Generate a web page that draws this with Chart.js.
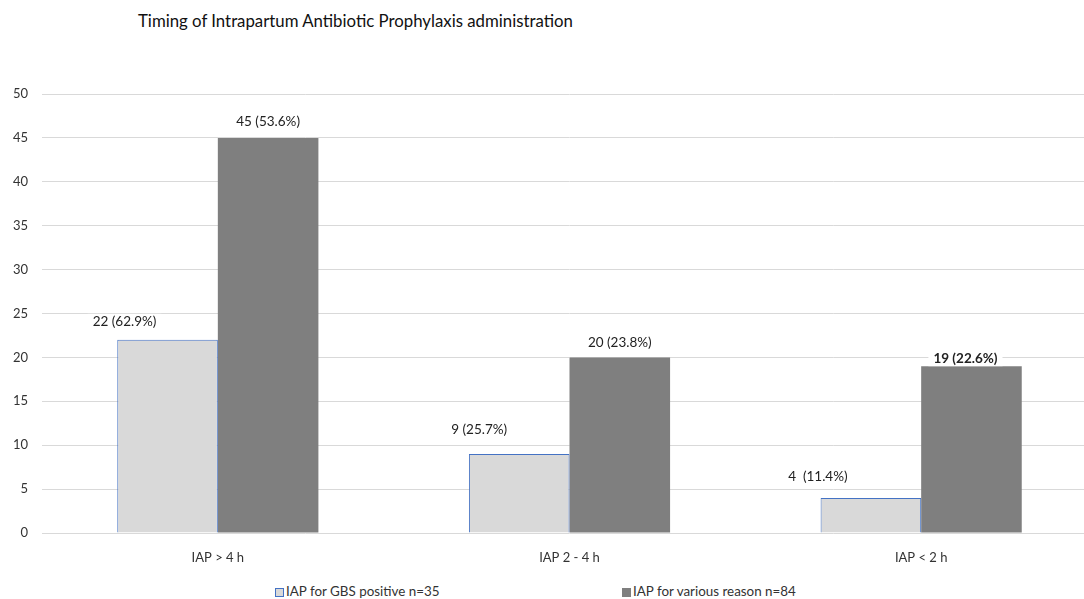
<!DOCTYPE html>
<html>
<head>
<meta charset="utf-8">
<script src="https://cdn.jsdelivr.net/npm/chart.js@4.4.1/dist/chart.umd.min.js"></script>
<style>
    body { margin: 0; background: #fff; overflow: hidden; width: 1084px; height: 599px; position: relative; font-family: Lato, sans-serif; }
    #title { position: absolute; left: 138px; top: 10px; font-size: 16.8px; color: #111; }
    #wrap { position: absolute; left: 0; top: 0; width: 1098px; height: 570px; }
    .legend { position: absolute; top: 583px; font-size: 13.4px; color: #333; white-space: nowrap; }
    .legend span { display: inline-block; width: 9px; height: 9px; margin-right: 2px; vertical-align: -1px; box-sizing: border-box; }
</style>
</head>
<body>
<div id="title">Timing of Intrapartum Antibiotic Prophylaxis administration</div>
<div id="wrap"><canvas id="iapChart"></canvas></div>
<div class="legend" style="left:275px"><span style="background:#d9d9d9;border:1px solid #4472c4"></span>IAP for GBS positive n=35</div>
<div class="legend" style="left:622px"><span style="background:#7f7f7f"></span>IAP for various reason n=84</div>
<script>
const categories = ['IAP > 4 h', 'IAP 2 - 4 h', 'IAP < 2 h'];
const gbsPositive = [22, 9, 4];
const variousReason = [45, 20, 19];
const gbsLabels = ['22 (62.9%)', '9 (25.7%)', '4  (11.4%)'];
const variousLabels = ['45 (53.6%)', '20 (23.8%)', '19 (22.6%)'];
const yTicks = [0, 5, 10, 15, 20, 25, 30, 35, 40, 45, 50];

// labels drawn on a white box, like the original
const barLabels = {
    id: 'barLabels',
    afterDatasetsDraw(chart) {
        const ctx = chart.ctx;
        const sets = [
            { texts: gbsLabels, dx: [-43, -40, -53], dy: [-18, -24, -21], bold: [false, false, false] },
            { texts: variousLabels, dx: [0, 0, -6], dy: [-16, -15, -8], bold: [false, false, true] }
        ];
        ctx.save();
        sets.forEach((s, di) => {
            chart.getDatasetMeta(di).data.forEach((bar, i) => {
                ctx.font = (s.bold[i] ? 'bold ' : '') + '13.5px Lato, sans-serif';
                const t = s.texts[i];
                const w = ctx.measureText(t).width;
                const x = bar.x + s.dx[i];
                const y = bar.y + s.dy[i];
                ctx.fillStyle = '#fff';
                ctx.fillRect(x - w / 2 - 5, y - 8, w + 10, 16);
                ctx.fillStyle = '#222';
                ctx.textAlign = 'center';
                ctx.textBaseline = 'middle';
                ctx.fillText(t, x, y);
            });
        });
        ctx.restore();
    }
};

new Chart(document.getElementById('iapChart').getContext('2d'), {
    type: 'bar',
    data: {
        labels: categories,
        datasets: [
            {
                label: 'IAP for GBS positive n=35',
                data: gbsPositive,
                backgroundColor: '#d9d9d9',
                borderColor: '#4472c4',
                borderWidth: 1,
                borderSkipped: 'bottom'
            },
            {
                label: 'IAP for various reason n=84',
                data: variousReason,
                backgroundColor: '#7f7f7f',
                borderWidth: 0
            }
        ]
    },
    options: {
        responsive: true,
        maintainAspectRatio: false,
        animation: false,
        categoryPercentage: 0.572,
        barPercentage: 1,
        layout: { padding: { top: 94, left: 0, right: 1, bottom: 0 } },
        plugins: {
            legend: { display: false },
            title: { display: false },
            tooltip: { enabled: false }
        },
        scales: {
            x: {
                grid: { display: false },
                border: { display: false },
                afterFit: axis => { axis.height = 37; },
                ticks: { color: '#333', padding: 9, font: { family: 'Lato', size: 13 } }
            },
            y: {
                min: 0,
                max: 50,
                afterBuildTicks: axis => { axis.ticks = yTicks.map(v => ({ value: v })); },
                afterFit: axis => { axis.width = 42; },
                grid: { color: '#d9d9d9', drawTicks: false },
                border: { display: false },
                ticks: { color: '#333', padding: 14, font: { family: 'Lato', size: 13 } }
            }
        }
    },
    plugins: [barLabels]
});
</script>
</body>
</html>
